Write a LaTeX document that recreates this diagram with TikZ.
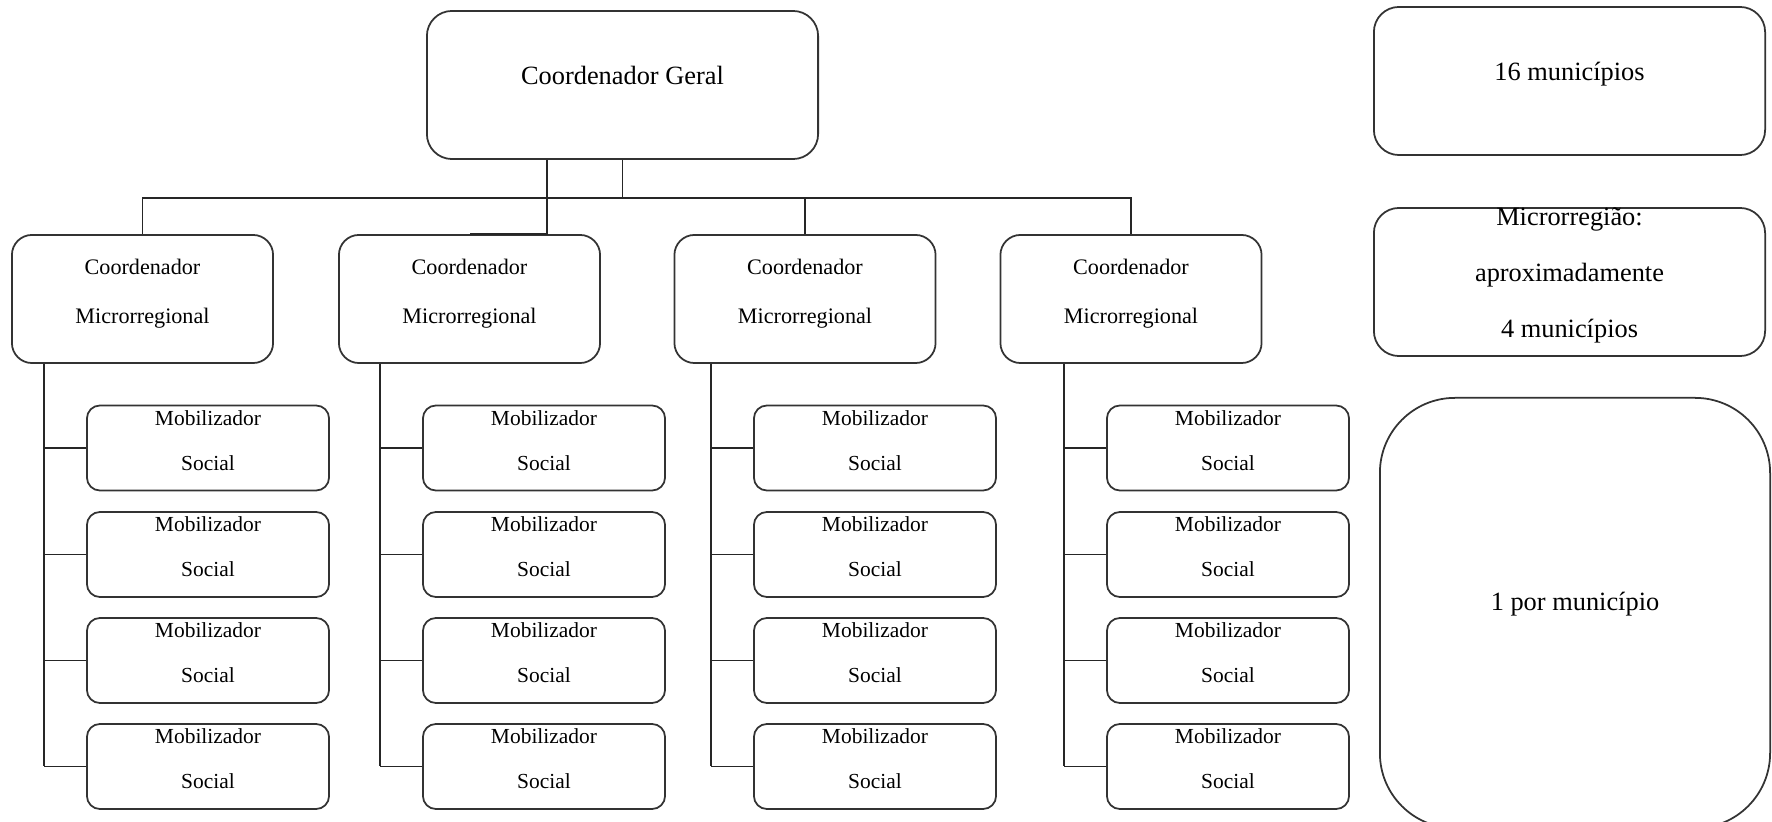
\documentclass[tikz,border=0pt]{standalone}
\usepackage{fontspec}
\setmainfont{Liberation Serif}
\usetikzlibrary{positioning}

\begin{document}
\begin{tikzpicture}[x=0.01cm,y=-0.01cm,
  caixa/.style={draw=black!80,line width=0.5pt,rounded corners=#1,inner sep=0pt,align=center},
  geral/.style={caixa=0.25cm,minimum width=3.91cm,minimum height=1.48cm,
    font=\fontsize{7.5}{16}\selectfont,text height=5pt,text depth=5pt},
  micro/.style={caixa=0.2cm,minimum width=2.61cm,minimum height=1.28cm,
    font=\fontsize{6.3}{14.2}\selectfont,text height=18.7pt,text depth=4.5pt},
  mobil/.style={caixa=0.13cm,minimum width=2.42cm,minimum height=0.85cm,
    font=\fontsize{6.1}{12.8}\selectfont,text height=17pt,text depth=4.4pt},
  liga/.style={draw=black!85,line width=0.4pt}]
  \useasboundingbox (0,0) rectangle (1772,822);

  \node[geral] (geral) at (622.5,85) {Coordenador Geral};
  \foreach \c/\x in {1/142.5,2/469.5,3/805,4/1131}
    \node[micro] (micro\c) at (\x,299) {Coordenador\\Microrregional};

  \coordinate (barra) at (622.5,198);
  \draw[liga] (geral.south) -- (barra);
  \draw[liga] (micro1.north) |- (barra) -| (micro4.north);
  \draw[liga] (micro3.north) -- (micro3.north |- barra);
  \draw[liga] ([xshift=-0.755cm]geral.south) |- (micro2.north);

  \foreach \c/\x in {1/208,2/544,3/875,4/1228} {
    \foreach \r/\y in {1/448,2/554.5,3/660.5,4/766.5}
      \node[mobil] (mob\c\r) at (\x,\y) {Mobilizador\\Social};
    \coordinate (tronco\c) at ([xshift=-0.42cm]mob\c1.west);
    \draw[liga] (tronco\c |- micro\c.south) -- (tronco\c |- mob\c4.west);
    \foreach \r in {1,...,4}
      \draw[liga] (tronco\c |- mob\c\r.west) -- (mob\c\r.west);
  }

  \node[geral] (munic) at (1569.5,81) {16 municípios};
  \node[geral,text height=36.6pt,text depth=5pt] (regiao) at (1569.5,282)
    {Microrregião:\\aproximadamente\\4 municípios};
  \node[caixa=0.75cm,minimum width=3.9cm,minimum height=4.3cm,
    font=\fontsize{7.5}{16}\selectfont,text height=5pt,text depth=6.2pt] (porm) at (1575,613)
    {1 por município};
\end{tikzpicture}
\end{document}
